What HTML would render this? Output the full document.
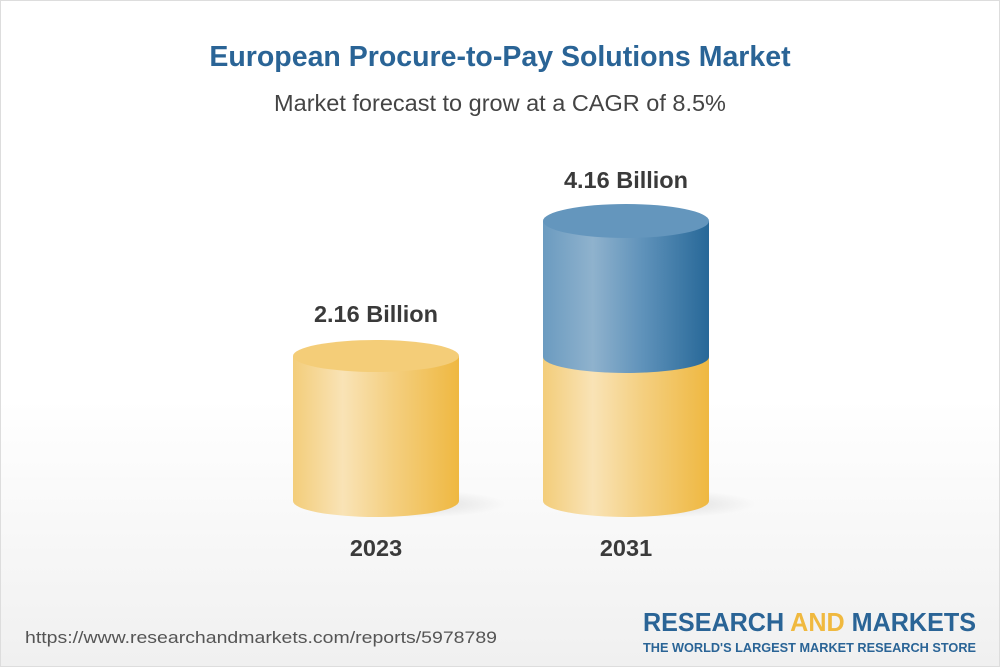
<!DOCTYPE html>
<html><head><style>
body{margin:0;}
.w{width:998px;height:665px;border:1px solid #ddd;position:relative;overflow:hidden;background:linear-gradient(#fff 0%,#fff 60%,#f0f0f0 100%);font-family:"Liberation Sans",Arial,sans-serif;}
.t{position:absolute;left:0;width:100%;text-align:center;}
</style></head><body><div class="w">
<div class="t" style="top:40px;font-size:28.5px;font-weight:bold;color:#2a6496;">European Procure-to-Pay Solutions Market</div>
<div class="t" style="top:89px;font-size:23.5px;color:#444;">Market forecast to grow at a CAGR of 8.5%</div>
<svg width="1000" height="667" style="position:absolute;left:0;top:0">
<defs>
<linearGradient id="y" x1="0" x2="1"><stop offset="0" stop-color="#f3cd7a"/><stop offset="0.3" stop-color="#f9e3b6"/><stop offset="0.6" stop-color="#f4cf80"/><stop offset="1" stop-color="#efb841"/></linearGradient>
<linearGradient id="b" x1="0" x2="1"><stop offset="0" stop-color="#6b9bc0"/><stop offset="0.3" stop-color="#8fb2cd"/><stop offset="0.6" stop-color="#5f92ba"/><stop offset="1" stop-color="#276898"/></linearGradient>
<radialGradient id="sh"><stop offset="0" stop-color="#000" stop-opacity="0.12"/><stop offset="1" stop-color="#000" stop-opacity="0"/></radialGradient>
</defs>
<ellipse cx="410" cy="503" rx="95" ry="14" fill="url(#sh)"/>
<ellipse cx="660" cy="503" rx="95" ry="14" fill="url(#sh)"/>
<path d="M292 355 V500 A83 16 0 0 0 458 500 V355 Z" fill="url(#y)"/>
<ellipse cx="375" cy="355" rx="83" ry="16" fill="#f4cd78"/>
<path d="M542 356 V500 A83 16 0 0 0 708 500 V356 Z" fill="url(#y)"/>
<path d="M542 220 V356 A83 16 0 0 0 708 356 V220 Z" fill="url(#b)"/>
<ellipse cx="625" cy="220" rx="83" ry="17" fill="#6496bd"/>
<g font-family="Liberation Sans,sans-serif" font-weight="bold" fill="#3a3a3a" font-size="23.5" text-anchor="middle">
<text x="375" y="321">2.16 Billion</text>
<text x="625" y="187">4.16 Billion</text>
<text x="375" y="555">2023</text>
<text x="625" y="555">2031</text>
</g>
<text x="24" y="642" font-size="17" fill="#555" font-family="Liberation Sans,sans-serif" textLength="472" lengthAdjust="spacingAndGlyphs">https://www.researchandmarkets.com/reports/5978789</text>
<text x="975" y="630" text-anchor="end" font-size="26" font-weight="bold" fill="#2a6496" font-family="Liberation Sans,sans-serif" textLength="333" lengthAdjust="spacingAndGlyphs">RESEARCH <tspan fill="#f0b93f">AND</tspan> MARKETS</text>
<text x="975" y="651" text-anchor="end" font-size="13" font-weight="bold" fill="#2a6496" font-family="Liberation Sans,sans-serif" textLength="333" lengthAdjust="spacingAndGlyphs">THE WORLD'S LARGEST MARKET RESEARCH STORE</text>
</svg>
</div></body></html>
